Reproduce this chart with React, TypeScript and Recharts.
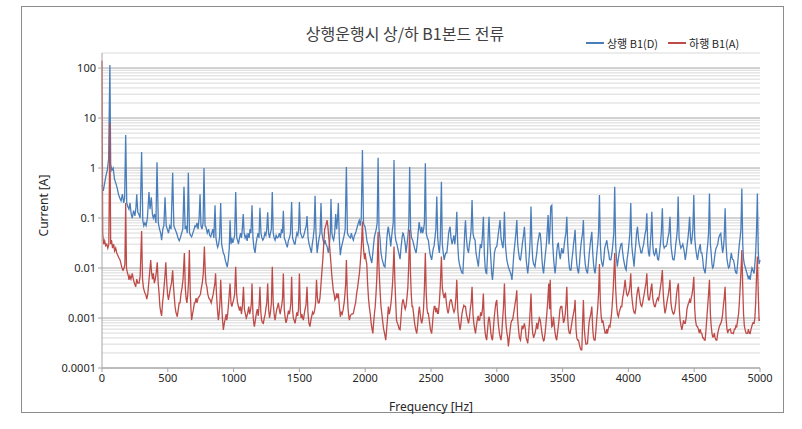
import { LineChart, Line, XAxis, YAxis, ReferenceLine } from "recharts";

// 상행 B1(D) : [frequency Hz, current A]
const upSeries: [number, number][] = [
  [0, 0.45], [10, 0.35], [20, 0.5], [30, 0.7], [40, 0.9], [50, 1.5], [60, 115], [66, 1.2], [75, 0.9], [85, 1.0],
  [95, 0.6], [105, 0.5], [115, 0.4], [125, 0.3], [135, 0.25], [145, 0.22], [155, 0.3], [165, 0.2], [172, 0.25], [180, 4.6],
  [188, 0.2], [196, 0.17], [205, 0.15], [213, 0.2], [222, 0.12], [230, 0.1], [240, 0.14], [250, 0.11], [258, 0.16], [264, 0.3],
  [272, 0.13], [280, 0.12], [290, 0.1], [301, 2.1], [310, 0.09], [318, 0.07], [326, 0.08], [335, 0.07], [345, 0.1], [357, 0.33],
  [365, 0.15], [375, 0.26], [383, 0.12], [390, 0.1], [400, 0.12], [410, 0.08], [418, 1.3], [428, 0.08], [437, 0.06], [446, 0.05],
  [453, 0.036], [462, 0.06], [470, 0.07], [479, 0.26], [488, 0.07], [496, 0.06], [505, 0.05], [515, 0.07], [525, 0.06], [537, 0.8],
  [546, 0.07], [555, 0.06], [567, 0.05], [578, 0.04], [587, 0.035], [595, 0.04], [605, 0.05], [614, 0.06], [623, 0.42], [632, 0.06],
  [640, 0.07], [648, 0.05], [656, 0.8], [665, 0.05], [673, 0.045], [681, 0.042], [690, 0.05], [700, 0.06], [707, 0.07], [714, 0.067],
  [722, 0.08], [730, 0.06], [738, 0.1], [745, 0.3], [752, 0.07], [760, 0.06], [768, 0.08], [775, 1.0], [783, 0.07], [790, 0.066],
  [800, 0.05], [810, 0.06], [818, 0.045], [826, 0.042], [834, 0.05], [842, 0.06], [850, 0.04], [859, 0.18], [866, 0.04], [873, 0.03],
  [879, 0.026], [886, 0.03], [893, 0.04], [902, 0.2], [909, 0.03], [915, 0.025], [922, 0.02], [930, 0.018], [938, 0.014], [945, 0.012],
  [952, 0.0105], [960, 0.015], [967, 0.025], [973, 0.09], [980, 0.03], [987, 0.04], [994, 0.032], [1000, 0.036], [1008, 0.045], [1016, 0.33],
  [1024, 0.04], [1031, 0.035], [1037, 0.03], [1045, 0.04], [1053, 0.05], [1060, 0.04], [1066, 0.06], [1073, 0.12], [1080, 0.05], [1088, 0.04],
  [1095, 0.045], [1103, 0.035], [1110, 0.05], [1118, 0.04], [1125, 0.06], [1132, 0.05], [1140, 0.18], [1147, 0.04], [1155, 0.025], [1163, 0.02],
  [1170, 0.03], [1178, 0.04], [1186, 0.05], [1193, 0.04], [1200, 0.16], [1208, 0.05], [1215, 0.04], [1222, 0.036], [1230, 0.04], [1238, 0.05],
  [1245, 0.045], [1252, 0.06], [1259, 0.13], [1266, 0.05], [1273, 0.04], [1280, 0.05], [1287, 0.06], [1294, 0.33], [1301, 0.05], [1308, 0.04],
  [1315, 0.036], [1323, 0.045], [1331, 0.04], [1340, 0.042], [1348, 0.05], [1356, 0.04], [1364, 0.06], [1371, 0.05], [1378, 0.14], [1385, 0.04],
  [1393, 0.035], [1400, 0.03], [1408, 0.026], [1416, 0.035], [1424, 0.04], [1432, 0.05], [1441, 0.21], [1448, 0.04], [1455, 0.035], [1462, 0.03],
  [1467, 0.03], [1474, 0.04], [1481, 0.05], [1488, 0.045], [1494, 0.06], [1500, 0.21], [1508, 0.05], [1515, 0.045], [1522, 0.04], [1530, 0.042],
  [1538, 0.05], [1545, 0.06], [1552, 0.07], [1558, 0.11], [1566, 0.04], [1574, 0.03], [1582, 0.025], [1591, 0.02], [1598, 0.03], [1605, 0.04],
  [1612, 0.06], [1619, 0.28], [1626, 0.05], [1635, 0.02], [1643, 0.03], [1650, 0.04], [1657, 0.05], [1664, 0.2], [1671, 0.05], [1680, 0.036],
  [1688, 0.03], [1695, 0.036], [1702, 0.03], [1710, 0.027], [1720, 0.02], [1728, 0.03], [1735, 0.05], [1740, 0.24], [1747, 0.05], [1753, 0.04],
  [1760, 0.036], [1768, 0.05], [1776, 0.12], [1783, 0.06], [1790, 0.1], [1796, 0.2], [1803, 0.04], [1811, 0.018], [1818, 0.025], [1825, 0.03],
  [1832, 0.036], [1840, 0.045], [1848, 0.06], [1857, 1.05], [1865, 0.05], [1872, 0.045], [1880, 0.042], [1888, 0.04], [1895, 0.05], [1903, 0.04],
  [1910, 0.036], [1918, 0.045], [1927, 0.05], [1935, 0.06], [1942, 0.07], [1948, 0.08], [1955, 0.09], [1962, 0.07], [1970, 0.1], [1979, 2.3],
  [1987, 0.08], [1993, 0.07], [1999, 0.067], [2006, 0.05], [2013, 0.035], [2020, 0.03], [2025, 0.027], [2032, 0.02], [2040, 0.016], [2050, 0.0126],
  [2058, 0.02], [2064, 0.03], [2070, 0.042], [2077, 0.05], [2084, 0.06], [2091, 0.08], [2098, 1.6], [2105, 0.06], [2112, 0.04], [2120, 0.02],
  [2128, 0.015], [2135, 0.013], [2142, 0.011], [2150, 0.0105], [2158, 0.02], [2165, 0.04], [2172, 0.06], [2176, 0.067], [2182, 0.05], [2188, 0.04],
  [2194, 0.027], [2200, 0.04], [2207, 0.06], [2213, 0.08], [2219, 1.45], [2226, 0.05], [2233, 0.035], [2240, 0.031], [2247, 0.025], [2255, 0.02],
  [2265, 0.015], [2272, 0.025], [2280, 0.04], [2286, 0.05], [2290, 0.049], [2297, 0.04], [2304, 0.03], [2310, 0.02], [2318, 0.03], [2325, 0.045],
  [2331, 0.07], [2338, 1.05], [2345, 0.06], [2352, 0.04], [2361, 0.036], [2368, 0.03], [2375, 0.025], [2381, 0.022], [2387, 0.02], [2395, 0.03],
  [2402, 0.05], [2410, 0.083], [2417, 0.06], [2423, 0.05], [2430, 0.067], [2437, 0.05], [2444, 0.06], [2450, 0.08], [2457, 1.24], [2464, 0.05],
  [2472, 0.04], [2480, 0.036], [2487, 0.025], [2495, 0.018], [2505, 0.0145], [2512, 0.02], [2518, 0.025], [2523, 0.027], [2530, 0.04], [2537, 0.06],
  [2544, 0.27], [2551, 0.04], [2558, 0.025], [2564, 0.02], [2571, 0.04], [2579, 0.53], [2586, 0.03], [2593, 0.02], [2600, 0.0145], [2607, 0.018],
  [2613, 0.02], [2620, 0.02], [2627, 0.03], [2634, 0.05], [2640, 0.06], [2645, 0.067], [2652, 0.04], [2660, 0.03], [2667, 0.036], [2674, 0.045],
  [2681, 0.03], [2689, 0.05], [2696, 0.134], [2703, 0.03], [2710, 0.015], [2716, 0.012], [2721, 0.0106], [2728, 0.009], [2735, 0.008], [2742, 0.0078],
  [2750, 0.02], [2756, 0.05], [2762, 0.09], [2769, 0.04], [2776, 0.025], [2785, 0.02], [2792, 0.03], [2799, 0.04], [2805, 0.06], [2812, 0.23],
  [2819, 0.05], [2826, 0.04], [2835, 0.036], [2842, 0.02], [2850, 0.015], [2860, 0.0106], [2868, 0.02], [2875, 0.03], [2883, 0.025], [2890, 0.04],
  [2898, 0.106], [2905, 0.02], [2912, 0.01], [2918, 0.008], [2923, 0.0078], [2930, 0.02], [2936, 0.06], [2941, 0.106], [2948, 0.03], [2955, 0.015],
  [2961, 0.008], [2967, 0.0058], [2975, 0.01], [2982, 0.02], [2990, 0.025], [3000, 0.027], [3008, 0.04], [3016, 0.06], [3025, 0.091], [3032, 0.04],
  [3040, 0.03], [3047, 0.025], [3052, 0.04], [3058, 0.134], [3065, 0.03], [3071, 0.02], [3076, 0.0145], [3083, 0.012], [3090, 0.01], [3097, 0.009],
  [3104, 0.008], [3110, 0.007], [3115, 0.0058], [3122, 0.01], [3130, 0.02], [3137, 0.03], [3145, 0.05], [3152, 0.091], [3159, 0.03], [3166, 0.02],
  [3173, 0.015], [3180, 0.0145], [3187, 0.02], [3194, 0.03], [3200, 0.04], [3205, 0.05], [3210, 0.067], [3217, 0.03], [3223, 0.015], [3230, 0.01],
  [3235, 0.0078], [3242, 0.012], [3248, 0.02], [3254, 0.04], [3260, 0.17], [3267, 0.03], [3273, 0.015], [3280, 0.012], [3290, 0.0106], [3297, 0.015],
  [3304, 0.02], [3310, 0.03], [3318, 0.04], [3324, 0.05], [3330, 0.049], [3337, 0.03], [3343, 0.015], [3349, 0.01], [3355, 0.0078], [3362, 0.012],
  [3370, 0.02], [3377, 0.03], [3384, 0.06], [3390, 0.115], [3397, 0.03], [3403, 0.05], [3410, 0.17], [3418, 0.18], [3425, 0.03], [3432, 0.015],
  [3438, 0.01], [3443, 0.0078], [3450, 0.012], [3455, 0.02], [3462, 0.03], [3468, 0.031], [3475, 0.02], [3482, 0.015], [3488, 0.02], [3494, 0.025],
  [3500, 0.02], [3506, 0.02], [3513, 0.03], [3519, 0.04], [3525, 0.05], [3532, 0.106], [3539, 0.03], [3546, 0.015], [3552, 0.01], [3558, 0.009],
  [3564, 0.0091], [3571, 0.015], [3577, 0.02], [3583, 0.03], [3589, 0.04], [3595, 0.058], [3602, 0.02], [3608, 0.012], [3615, 0.009], [3621, 0.0078],
  [3628, 0.012], [3634, 0.02], [3640, 0.03], [3646, 0.04], [3652, 0.05], [3658, 0.091], [3665, 0.02], [3672, 0.012], [3680, 0.009], [3689, 0.0078],
  [3696, 0.012], [3703, 0.02], [3710, 0.03], [3716, 0.04], [3722, 0.053], [3729, 0.02], [3735, 0.012], [3741, 0.009], [3747, 0.0078], [3754, 0.012],
  [3760, 0.02], [3767, 0.03], [3773, 0.05], [3780, 0.29], [3787, 0.03], [3793, 0.015], [3800, 0.012], [3806, 0.0106], [3813, 0.015], [3820, 0.025],
  [3828, 0.03], [3836, 0.036], [3843, 0.025], [3850, 0.02], [3856, 0.015], [3862, 0.0145], [3867, 0.0145], [3875, 0.02], [3882, 0.03], [3889, 0.05],
  [3896, 0.42], [3903, 0.03], [3910, 0.015], [3916, 0.0106], [3923, 0.015], [3930, 0.02], [3937, 0.025], [3943, 0.03], [3950, 0.031], [3957, 0.02],
  [3963, 0.015], [3970, 0.012], [3976, 0.01], [3983, 0.0091], [3990, 0.015], [3997, 0.02], [4004, 0.03], [4011, 0.05], [4018, 0.2], [4025, 0.03],
  [4031, 0.02], [4037, 0.015], [4043, 0.0106], [4050, 0.02], [4056, 0.03], [4062, 0.05], [4069, 0.067], [4076, 0.04], [4082, 0.03], [4089, 0.025],
  [4095, 0.02], [4102, 0.02], [4109, 0.025], [4116, 0.03], [4122, 0.04], [4128, 0.05], [4134, 0.06], [4140, 0.124], [4147, 0.03], [4153, 0.02],
  [4160, 0.017], [4166, 0.03], [4172, 0.05], [4178, 0.134], [4185, 0.03], [4191, 0.02], [4198, 0.018], [4204, 0.02], [4210, 0.025], [4216, 0.02],
  [4222, 0.015], [4229, 0.0145], [4236, 0.02], [4243, 0.03], [4250, 0.05], [4258, 0.156], [4265, 0.03], [4272, 0.025], [4280, 0.027], [4286, 0.027],
  [4293, 0.03], [4300, 0.04], [4308, 0.05], [4316, 0.106], [4323, 0.03], [4330, 0.02], [4337, 0.015], [4342, 0.0145], [4347, 0.0145], [4354, 0.02],
  [4360, 0.03], [4366, 0.04], [4372, 0.06], [4378, 0.27], [4385, 0.04], [4392, 0.03], [4399, 0.025], [4406, 0.027], [4413, 0.03], [4420, 0.025],
  [4426, 0.02], [4432, 0.0145], [4440, 0.02], [4447, 0.03], [4453, 0.04], [4459, 0.06], [4465, 0.106], [4472, 0.04], [4478, 0.03], [4484, 0.04],
  [4490, 0.06], [4497, 0.29], [4504, 0.04], [4511, 0.025], [4518, 0.018], [4525, 0.0145], [4532, 0.02], [4539, 0.025], [4546, 0.03], [4552, 0.02],
  [4558, 0.02], [4565, 0.015], [4571, 0.01], [4577, 0.009], [4583, 0.0078], [4590, 0.012], [4596, 0.02], [4603, 0.03], [4609, 0.05], [4616, 0.31],
  [4623, 0.03], [4629, 0.02], [4635, 0.012], [4640, 0.01], [4646, 0.0106], [4653, 0.015], [4659, 0.02], [4666, 0.025], [4672, 0.027], [4679, 0.03],
  [4686, 0.04], [4693, 0.045], [4702, 0.049], [4709, 0.03], [4716, 0.02], [4722, 0.025], [4728, 0.04], [4735, 0.156], [4742, 0.03], [4749, 0.015],
  [4755, 0.012], [4761, 0.01], [4768, 0.0106], [4775, 0.015], [4782, 0.02], [4790, 0.015], [4798, 0.0145], [4805, 0.012], [4811, 0.009], [4817, 0.008],
  [4823, 0.0078], [4830, 0.012], [4837, 0.02], [4843, 0.03], [4849, 0.04], [4855, 0.06], [4862, 0.39], [4869, 0.03], [4875, 0.015], [4881, 0.012],
  [4887, 0.0106], [4894, 0.009], [4900, 0.008], [4906, 0.007], [4912, 0.006], [4918, 0.007], [4925, 0.0058], [4932, 0.008], [4939, 0.01], [4946, 0.009],
  [4955, 0.0078], [4961, 0.012], [4967, 0.02], [4973, 0.05], [4980, 0.31], [4987, 0.02], [4993, 0.012], [5000, 0.0145],
];

// 하행 B1(A) : [frequency Hz, current A]
const downSeries: [number, number][] = [
  [0, 140], [5, 0.05], [12, 0.03], [20, 0.035], [28, 0.028], [36, 0.03], [44, 0.025], [52, 0.03], [60, 8], [66, 0.03],
  [72, 0.036], [80, 0.025], [88, 0.03], [96, 0.022], [104, 0.025], [112, 0.02], [120, 0.018], [128, 0.016], [137, 0.0145], [145, 0.012],
  [152, 0.01], [160, 0.009], [168, 0.01], [174, 0.012], [180, 0.2], [186, 0.01], [193, 0.008], [200, 0.007], [205, 0.0058], [212, 0.007],
  [220, 0.006], [230, 0.0078], [238, 0.006], [246, 0.005], [256, 0.0042], [264, 0.006], [272, 0.005], [282, 0.005], [290, 0.007], [301, 0.055],
  [308, 0.006], [315, 0.004], [325, 0.0032], [332, 0.003], [340, 0.0024], [348, 0.003], [355, 0.005], [362, 0.008], [370, 0.0145], [377, 0.008],
  [384, 0.006], [390, 0.0078], [398, 0.005], [405, 0.006], [412, 0.008], [420, 0.013], [427, 0.005], [434, 0.003], [440, 0.0017], [447, 0.0013],
  [453, 0.0011], [460, 0.002], [467, 0.003], [474, 0.005], [480, 0.008], [485, 0.013], [492, 0.005], [498, 0.003], [505, 0.0023], [512, 0.003],
  [520, 0.004], [528, 0.005], [537, 0.009], [544, 0.004], [550, 0.0025], [555, 0.0017], [562, 0.0013], [572, 0.00106], [580, 0.0015], [586, 0.002],
  [593, 0.002], [600, 0.003], [608, 0.004], [616, 0.006], [626, 0.02], [633, 0.004], [639, 0.0025], [645, 0.002], [652, 0.003], [657, 0.005],
  [664, 0.023], [671, 0.003], [676, 0.0015], [681, 0.00091], [688, 0.0012], [695, 0.0015], [702, 0.002], [707, 0.002], [715, 0.0025], [722, 0.002],
  [730, 0.0025], [740, 0.0027], [748, 0.003], [755, 0.004], [762, 0.005], [770, 0.008], [778, 0.027], [785, 0.008], [790, 0.005], [797, 0.0042],
  [804, 0.003], [812, 0.0025], [822, 0.0023], [830, 0.002], [838, 0.0025], [845, 0.003], [852, 0.004], [858, 0.005], [863, 0.0078], [870, 0.003],
  [877, 0.0015], [884, 0.00091], [890, 0.0012], [896, 0.002], [902, 0.0058], [909, 0.002], [915, 0.001], [922, 0.00058], [930, 0.0008], [938, 0.001],
  [943, 0.0012], [948, 0.00091], [955, 0.0012], [962, 0.002], [967, 0.003], [973, 0.0049], [980, 0.002], [987, 0.0017], [993, 0.002], [1000, 0.0023],
  [1008, 0.003], [1016, 0.0106], [1023, 0.003], [1030, 0.002], [1037, 0.0017], [1045, 0.0014], [1052, 0.0017], [1060, 0.0012], [1067, 0.0018], [1075, 0.0042],
  [1082, 0.0015], [1090, 0.0012], [1096, 0.001], [1100, 0.00106], [1108, 0.0013], [1115, 0.0017], [1122, 0.0012], [1130, 0.0015], [1135, 0.002], [1140, 0.0049],
  [1147, 0.0012], [1153, 0.0008], [1158, 0.00067], [1165, 0.0009], [1172, 0.0012], [1180, 0.0015], [1187, 0.0011], [1194, 0.0018], [1200, 0.0042], [1207, 0.0013],
  [1213, 0.0009], [1220, 0.0008], [1226, 0.00078], [1233, 0.001], [1240, 0.0012], [1246, 0.0016], [1252, 0.002], [1259, 0.0049], [1266, 0.0015], [1273, 0.001],
  [1280, 0.0013], [1287, 0.002], [1294, 0.0106], [1301, 0.002], [1308, 0.0012], [1315, 0.00091], [1322, 0.0012], [1328, 0.0015], [1334, 0.0017], [1340, 0.002],
  [1347, 0.0015], [1354, 0.0012], [1360, 0.0015], [1366, 0.0018], [1372, 0.0025], [1378, 0.0078], [1385, 0.0015], [1392, 0.001], [1398, 0.0008], [1404, 0.00091],
  [1410, 0.0011], [1417, 0.0014], [1424, 0.0012], [1430, 0.0015], [1435, 0.002], [1441, 0.0067], [1448, 0.0015], [1454, 0.001], [1460, 0.0009], [1467, 0.00078],
  [1474, 0.001], [1480, 0.0013], [1487, 0.0011], [1493, 0.0015], [1500, 0.0078], [1507, 0.0014], [1513, 0.001], [1519, 0.0012], [1525, 0.001], [1530, 0.00091],
  [1537, 0.0012], [1543, 0.0015], [1550, 0.0018], [1558, 0.0042], [1565, 0.0013], [1572, 0.0008], [1580, 0.00067], [1587, 0.0009], [1594, 0.0011], [1600, 0.0013],
  [1605, 0.0012], [1610, 0.00124], [1617, 0.0015], [1623, 0.002], [1630, 0.0058], [1637, 0.0025], [1643, 0.002], [1650, 0.002], [1656, 0.0025], [1662, 0.004],
  [1670, 0.0078], [1678, 0.015], [1685, 0.03], [1692, 0.06], [1700, 0.07], [1706, 0.08], [1710, 0.091], [1716, 0.07], [1722, 0.045], [1728, 0.03],
  [1735, 0.018], [1740, 0.012], [1745, 0.0078], [1752, 0.005], [1758, 0.0035], [1764, 0.003], [1770, 0.0023], [1777, 0.0025], [1783, 0.0031], [1790, 0.0025],
  [1796, 0.0031], [1803, 0.0018], [1811, 0.00106], [1818, 0.0013], [1825, 0.0012], [1832, 0.00145], [1840, 0.002], [1846, 0.003], [1852, 0.005], [1857, 0.0145],
  [1864, 0.003], [1870, 0.0015], [1875, 0.0011], [1880, 0.00091], [1887, 0.0011], [1895, 0.0012], [1903, 0.0012], [1910, 0.00124], [1918, 0.0016], [1927, 0.002],
  [1935, 0.0031], [1942, 0.004], [1950, 0.006], [1956, 0.0078], [1962, 0.012], [1968, 0.02], [1973, 0.035], [1979, 0.085], [1985, 0.03], [1990, 0.02],
  [1995, 0.015], [2000, 0.02], [2006, 0.0145], [2012, 0.012], [2018, 0.005], [2025, 0.0025], [2032, 0.0016], [2038, 0.00124], [2045, 0.0008], [2052, 0.0006],
  [2058, 0.00049], [2064, 0.0008], [2070, 0.0012], [2076, 0.0017], [2082, 0.003], [2088, 0.006], [2093, 0.015], [2098, 0.053], [2104, 0.012], [2110, 0.005],
  [2116, 0.0025], [2120, 0.0017], [2127, 0.0012], [2134, 0.0008], [2140, 0.0006], [2147, 0.0005], [2156, 0.00036], [2163, 0.0006], [2170, 0.001], [2176, 0.0017],
  [2183, 0.0012], [2190, 0.0015], [2196, 0.002], [2202, 0.003], [2208, 0.005], [2213, 0.01], [2219, 0.027], [2225, 0.006], [2232, 0.002], [2238, 0.0009],
  [2245, 0.00078], [2252, 0.0007], [2258, 0.0006], [2265, 0.00058], [2272, 0.001], [2279, 0.0018], [2286, 0.0023], [2290, 0.0023], [2297, 0.0018], [2304, 0.0015],
  [2310, 0.0017], [2317, 0.0025], [2324, 0.004], [2330, 0.01], [2338, 0.058], [2344, 0.008], [2350, 0.003], [2356, 0.0017], [2361, 0.0017], [2368, 0.0012],
  [2375, 0.0008], [2383, 0.0006], [2392, 0.00049], [2400, 0.0008], [2406, 0.0013], [2412, 0.0017], [2418, 0.0012], [2424, 0.0009], [2430, 0.00078], [2437, 0.001],
  [2443, 0.0015], [2450, 0.004], [2457, 0.02], [2464, 0.003], [2470, 0.0015], [2475, 0.00124], [2480, 0.00124], [2487, 0.0009], [2495, 0.0006], [2505, 0.00049],
  [2512, 0.0008], [2518, 0.0013], [2525, 0.0017], [2530, 0.0017], [2537, 0.0013], [2544, 0.0016], [2550, 0.00124], [2556, 0.00124], [2563, 0.002], [2570, 0.004],
  [2579, 0.017], [2586, 0.004], [2593, 0.003], [2600, 0.0025], [2605, 0.003], [2610, 0.0031], [2617, 0.002], [2623, 0.0015], [2630, 0.00124], [2636, 0.0015],
  [2642, 0.002], [2648, 0.0023], [2655, 0.0023], [2662, 0.0018], [2668, 0.0015], [2675, 0.0013], [2682, 0.0015], [2689, 0.0025], [2696, 0.0058], [2703, 0.0015],
  [2710, 0.0009], [2716, 0.0007], [2721, 0.00058], [2728, 0.0008], [2735, 0.0012], [2742, 0.0015], [2750, 0.0018], [2756, 0.0017], [2762, 0.0017], [2769, 0.0012],
  [2776, 0.001], [2785, 0.00078], [2792, 0.001], [2798, 0.0015], [2805, 0.002], [2812, 0.0042], [2819, 0.0012], [2825, 0.0008], [2832, 0.0006], [2838, 0.00049],
  [2845, 0.0007], [2851, 0.0009], [2858, 0.0011], [2864, 0.0009], [2870, 0.00091], [2877, 0.0013], [2884, 0.0011], [2891, 0.0015], [2898, 0.0031], [2905, 0.0008],
  [2912, 0.0005], [2918, 0.0004], [2923, 0.00036], [2930, 0.0006], [2936, 0.0009], [2942, 0.00106], [2948, 0.0008], [2955, 0.0005], [2961, 0.0004], [2967, 0.00036],
  [2974, 0.0006], [2980, 0.001], [2987, 0.0015], [2993, 0.002], [3000, 0.0023], [3006, 0.0012], [3013, 0.0007], [3020, 0.0005], [3027, 0.0004], [3032, 0.00036],
  [3038, 0.0005], [3045, 0.001], [3051, 0.0017], [3058, 0.0049], [3065, 0.0012], [3071, 0.0007], [3077, 0.0005], [3083, 0.0004], [3088, 0.00027], [3095, 0.0004],
  [3102, 0.0006], [3108, 0.0008], [3114, 0.0009], [3120, 0.00091], [3127, 0.0012], [3133, 0.0015], [3140, 0.002], [3146, 0.0025], [3152, 0.0036], [3158, 0.001],
  [3165, 0.0006], [3172, 0.0004], [3180, 0.00036], [3186, 0.0005], [3192, 0.0007], [3198, 0.0006], [3205, 0.0007], [3210, 0.00078], [3217, 0.0006], [3223, 0.0004],
  [3230, 0.00035], [3235, 0.00031], [3242, 0.0005], [3248, 0.0008], [3254, 0.0015], [3260, 0.0031], [3267, 0.0008], [3273, 0.0005], [3280, 0.0004], [3285, 0.00045],
  [3290, 0.00049], [3297, 0.0006], [3304, 0.0008], [3310, 0.0006], [3317, 0.0008], [3323, 0.001], [3330, 0.00091], [3336, 0.0007], [3343, 0.0005], [3349, 0.0004],
  [3355, 0.00035], [3360, 0.00036], [3367, 0.0005], [3374, 0.0008], [3380, 0.0012], [3386, 0.002], [3395, 0.0049], [3401, 0.0015], [3406, 0.0058], [3412, 0.0012],
  [3418, 0.00067], [3424, 0.0007], [3430, 0.00106], [3437, 0.0007], [3443, 0.0005], [3449, 0.0004], [3455, 0.00036], [3461, 0.0005], [3468, 0.0007], [3474, 0.001],
  [3480, 0.0015], [3487, 0.0017], [3494, 0.0017], [3500, 0.0012], [3507, 0.0008], [3513, 0.0009], [3520, 0.0012], [3526, 0.002], [3532, 0.0042], [3539, 0.001],
  [3545, 0.0006], [3551, 0.0005], [3557, 0.00049], [3563, 0.0006], [3570, 0.0008], [3576, 0.001], [3582, 0.0012], [3589, 0.0015], [3595, 0.0023], [3602, 0.0006],
  [3608, 0.0004], [3614, 0.00036], [3621, 0.00036], [3627, 0.0003], [3634, 0.00025], [3640, 0.00023], [3646, 0.00023], [3652, 0.0008], [3658, 0.0023], [3665, 0.0006],
  [3671, 0.0004], [3677, 0.0003], [3683, 0.0003], [3689, 0.00031], [3695, 0.0005], [3701, 0.0008], [3707, 0.001], [3714, 0.0012], [3722, 0.0017], [3729, 0.0006],
  [3735, 0.0004], [3741, 0.00036], [3747, 0.00036], [3754, 0.0006], [3760, 0.001], [3766, 0.0015], [3773, 0.003], [3780, 0.012], [3787, 0.002], [3793, 0.0011],
  [3800, 0.0008], [3806, 0.0009], [3810, 0.00078], [3817, 0.0006], [3823, 0.0005], [3830, 0.0005], [3836, 0.0006], [3840, 0.00049], [3847, 0.0006], [3853, 0.0007],
  [3860, 0.00067], [3866, 0.0009], [3872, 0.0012], [3878, 0.002], [3885, 0.004], [3890, 0.008], [3896, 0.02], [3903, 0.004], [3910, 0.0018], [3917, 0.0012],
  [3924, 0.00106], [3930, 0.0013], [3937, 0.0015], [3943, 0.0017], [3950, 0.0017], [3956, 0.0025], [3962, 0.003], [3968, 0.004], [3975, 0.0058], [3981, 0.004],
  [3987, 0.003], [3993, 0.0028], [4000, 0.0031], [4006, 0.0035], [4012, 0.0045], [4018, 0.0078], [4024, 0.003], [4031, 0.002], [4037, 0.0015], [4043, 0.0013],
  [4050, 0.00124], [4056, 0.0015], [4062, 0.0025], [4069, 0.0035], [4076, 0.0042], [4082, 0.003], [4089, 0.0022], [4095, 0.0018], [4102, 0.0017], [4108, 0.002],
  [4114, 0.0025], [4120, 0.003], [4127, 0.004], [4134, 0.005], [4140, 0.0078], [4147, 0.003], [4153, 0.0023], [4160, 0.0023], [4166, 0.003], [4172, 0.004],
  [4178, 0.0049], [4185, 0.0025], [4191, 0.002], [4198, 0.0017], [4204, 0.0017], [4210, 0.002], [4216, 0.0023], [4222, 0.0025], [4229, 0.0023], [4236, 0.003],
  [4243, 0.004], [4250, 0.0055], [4258, 0.0091], [4265, 0.003], [4271, 0.0018], [4278, 0.00124], [4285, 0.0015], [4292, 0.002], [4298, 0.0025], [4304, 0.003],
  [4310, 0.004], [4316, 0.0058], [4323, 0.002], [4330, 0.0015], [4336, 0.0013], [4342, 0.0012], [4347, 0.00124], [4354, 0.0015], [4360, 0.002], [4366, 0.003],
  [4372, 0.004], [4380, 0.0049], [4387, 0.0015], [4393, 0.0009], [4400, 0.0007], [4406, 0.00058], [4412, 0.0007], [4419, 0.0009], [4426, 0.00078], [4432, 0.00078],
  [4439, 0.001], [4445, 0.0015], [4452, 0.0018], [4458, 0.002], [4465, 0.0023], [4471, 0.002], [4477, 0.0025], [4484, 0.003], [4490, 0.004], [4497, 0.0067],
  [4504, 0.0015], [4510, 0.0009], [4517, 0.0007], [4525, 0.00067], [4532, 0.0006], [4539, 0.0005], [4546, 0.0006], [4552, 0.0005], [4558, 0.00049], [4565, 0.0004],
  [4571, 0.0004], [4577, 0.00036], [4583, 0.00036], [4590, 0.0006], [4596, 0.001], [4603, 0.0018], [4609, 0.003], [4616, 0.0058], [4623, 0.0012], [4629, 0.0007],
  [4635, 0.0005], [4640, 0.00042], [4646, 0.00042], [4653, 0.0005], [4659, 0.0004], [4666, 0.00036], [4672, 0.00036], [4679, 0.0005], [4686, 0.0006], [4693, 0.0007],
  [4702, 0.00078], [4709, 0.0009], [4716, 0.0012], [4722, 0.0018], [4728, 0.0025], [4735, 0.0042], [4742, 0.001], [4749, 0.0006], [4755, 0.0005], [4761, 0.00058],
  [4768, 0.00058], [4775, 0.0006], [4782, 0.0005], [4790, 0.0005], [4798, 0.00049], [4805, 0.0006], [4811, 0.0006], [4817, 0.0007], [4823, 0.00067], [4830, 0.0009],
  [4837, 0.0012], [4843, 0.002], [4849, 0.004], [4855, 0.008], [4862, 0.023], [4869, 0.004], [4875, 0.0012], [4881, 0.0007], [4887, 0.00058], [4894, 0.0005],
  [4900, 0.00049], [4906, 0.0005], [4912, 0.0006], [4918, 0.0005], [4925, 0.00049], [4932, 0.0006], [4939, 0.0007], [4946, 0.0008], [4955, 0.00078], [4961, 0.001],
  [4967, 0.002], [4973, 0.006], [4980, 0.017], [4987, 0.003], [4993, 0.0009], [5000, 0.00091],
];

const xTicks = [0, 500, 1000, 1500, 2000, 2500, 3000, 3500, 4000, 4500, 5000];
const yTicks = [0.0001, 0.001, 0.01, 0.1, 1, 10, 100];
const yTop = 200;

// 2..9 x each decade, plus the 200 line at the top of the plot
const minorLines: number[] = [];
yTicks.forEach((d) => {
  for (let k = 2; k <= 9; k++) {
    const v = +(d * k).toPrecision(3);
    if (v <= yTop) minorLines.push(v);
  }
});

const upData = upSeries.map(([f, v]) => ({ f, v }));
const downData = downSeries.map(([f, v]) => ({ f, v }));

const BLUE = "#4a7ebb";
const RED = "#be4b48";
const FONT = "'Noto Sans', 'Noto Sans CJK KR', sans-serif";

const legendItems = [
  { name: "상행 B1(D)", color: BLUE },
  { name: "하행 B1(A)", color: RED },
];

export default function App() {
  return (
    <div
      style={{
        position: "absolute",
        left: 0,
        top: 0,
        width: 802,
        height: 429,
        background: "#fff",
        fontFamily: FONT,
      }}
    >
      <div
        style={{
          position: "absolute",
          left: 21,
          top: 6,
          width: 761,
          height: 405,
          border: "1px solid #8c8c8c",
        }}
      />
      <div
        style={{
          position: "absolute",
          left: 200,
          width: 410,
          top: 21,
          textAlign: "center",
          fontSize: 16,
          color: "#404040",
          fontFamily: "'Noto Sans CJK KR', sans-serif",
        }}
      >
        상행운행시 상/하 B1본드 전류
      </div>
      <div
        style={{
          position: "absolute",
          left: 586,
          top: 35,
          display: "flex",
          gap: 10,
          fontSize: 11,
          color: "#262626",
          fontFamily: "'Noto Sans CJK KR', sans-serif",
        }}
      >
        {legendItems.map((it) => (
          <div key={it.name} style={{ display: "flex", alignItems: "center", gap: 3 }}>
            <span style={{ display: "inline-block", width: 18, height: 1.5, background: it.color }} />
            <span>{it.name}</span>
          </div>
        ))}
      </div>
      <div style={{ position: "absolute", left: 0, top: 0 }}>
        <LineChart
          width={802}
          height={429}
          margin={{ top: 53, right: 42, bottom: 31, left: 42 }}
          style={{ fontFamily: FONT }}
        >
          {minorLines.map((v) => (
            <ReferenceLine key={"m" + v} y={v} stroke="#d9d9d9" strokeWidth={1} />
          ))}
          {yTicks.map((v) => (
            <ReferenceLine key={"M" + v} y={v} stroke="#a6a6a6" strokeWidth={1} />
          ))}
          <XAxis
            dataKey="f"
            type="number"
            domain={[0, 5000]}
            ticks={xTicks}
            allowDuplicatedCategory={false}
            tick={{ fontSize: 11, fill: "#262626" }}
            tickLine={{ stroke: "#a6a6a6" }}
            axisLine={{ stroke: "#a6a6a6" }}
            tickSize={4}
            height={30}
            label={{
              value: "Frequency [Hz]",
              position: "insideBottom",
              offset: -13,
              fontSize: 12,
              fill: "#262626",
            }}
          />
          <YAxis
            dataKey="v"
            scale="log"
            domain={[0.0001, yTop]}
            allowDataOverflow
            ticks={yTicks}
            tickFormatter={(v: number) => String(v)}
            tick={{ fontSize: 11, fill: "#262626" }}
            tickLine={{ stroke: "#a6a6a6" }}
            axisLine={{ stroke: "#a6a6a6" }}
            tickSize={4}
            width={60}
            label={{
              value: "Current [A]",
              angle: -90,
              position: "insideLeft",
              offset: 2,
              dy: -5,
              fontSize: 12,
              fill: "#262626",
              style: { textAnchor: "middle" },
            }}
          />
          <Line
            data={upData}
            dataKey="v"
            name="상행 B1(D)"
            stroke={BLUE}
            strokeWidth={1.3}
            dot={false}
            type="linear"
            isAnimationActive={false}
          />
          <Line
            data={downData}
            dataKey="v"
            name="하행 B1(A)"
            stroke={RED}
            strokeWidth={1.3}
            dot={false}
            type="linear"
            isAnimationActive={false}
          />
        </LineChart>
      </div>
    </div>
  );
}
